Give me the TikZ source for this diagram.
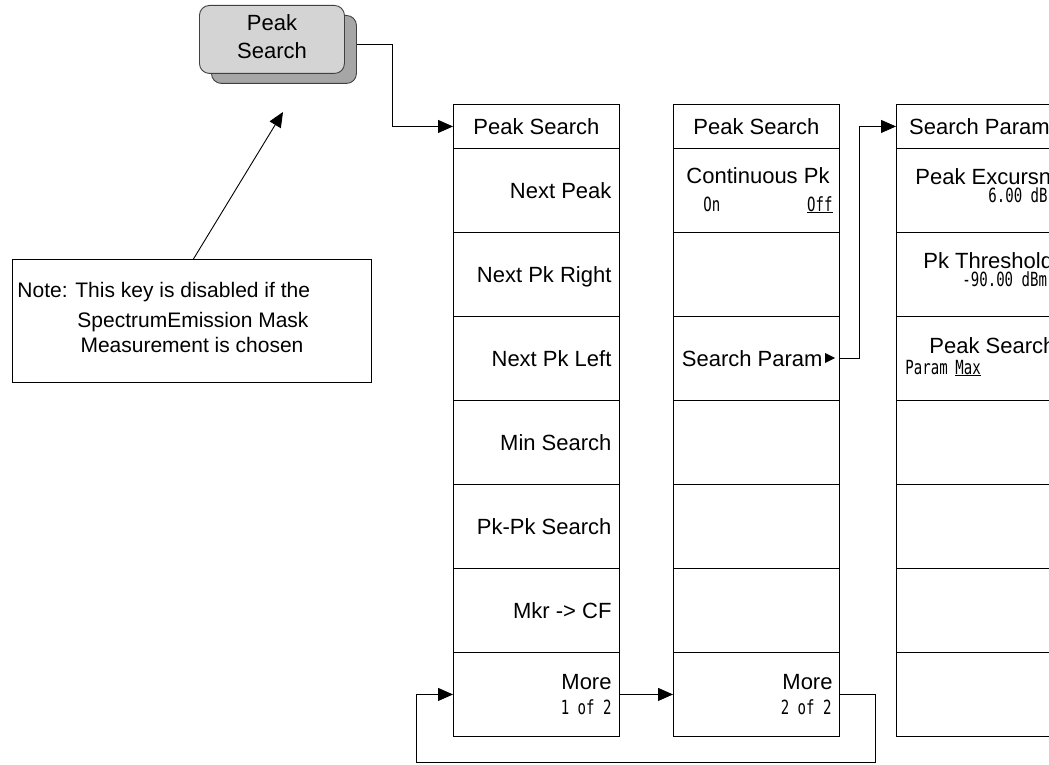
\documentclass[tikz,border=0pt]{standalone}
\usepackage{fontspec}
\setmainfont{Liberation Sans}
\newfontfamily\subfont[FakeStretch=0.72]{DejaVu Sans Mono}
\usetikzlibrary{arrows.meta,calc}
\begin{document}
\begin{tikzpicture}[x=1pt,y=-1pt,
  line width=0.9pt,
  cell/.style={draw, rectangle, minimum width=166pt, minimum height=84pt, inner sep=0pt, anchor=north west},
  hdr/.style={cell, minimum height=44pt},
  keylbl/.style={font=\fontsize{22}{24}\selectfont, inner sep=0pt, text height=16pt, text depth=0pt},
  sublbl/.style={font=\subfont\fontsize{19.5}{21}\selectfont, inner sep=0pt, text height=14pt, text depth=0pt},
  arr/.style={-{Triangle[length=15pt,width=13pt]}},
  notetxt/.style={font=\fontsize{21}{24}\selectfont, inner sep=0pt},
  hardkey/.style={draw=black!75, rounded corners=10pt, minimum width=145pt, minimum height=68pt, inner sep=0pt, anchor=north west}
]
\path[use as bounding box] (0,0) rectangle (1049,765);
\clip (0,0) rectangle (1049,765);

% hard key
\node[hardkey, fill=black!35] (keysh) at (211,15) {};
\node[hardkey, fill=black!17] (key) at (199,5) {};
\node[keylbl] (keyt1) at (272,23) {Peak};
\node[keylbl] (keyt2) at (272,51) {Search};

% column 1
\node[hdr] (c1h) at (453,104) {};
\node[keylbl] (c1ht) at (c1h.center) {Peak Search};
\foreach \i/\t in {1/Next Peak,2/Next Pk Right,3/Next Pk Left,4/Min Search,5/Pk-Pk Search,6/Mkr -> CF}{
  \node[cell] (c1r\i) at (453,{148+84*(\i-1)}) {};
  \node[keylbl, anchor=east] (c1t\i) at ([xshift=-8pt]c1r\i.east) {\t};
}
\node[cell] (c1m) at (453,652) {};
\node[keylbl, anchor=east] (c1mt) at (612,681) {More};
\node[sublbl, anchor=east] (c1ms) at (612,707) {1 of 2};

% column 2
\node[hdr] (c2h) at (673,104) {};
\node[keylbl] (c2ht) at (c2h.center) {Peak Search};
\foreach \i in {1,...,6}{
  \node[cell] (c2r\i) at (673,{148+84*(\i-1)}) {};
}
\node[keylbl, anchor=east] (c2t1) at (830,175) {Continuous Pk};
\node[sublbl, anchor=west] (c2on) at (703,204) {On};
\node[sublbl, anchor=east] (c2off) at (833,204) {\underline{Off}};
\node[keylbl, anchor=east] (c2t3) at (823,358) {Search Param};
\fill (825,353) -- (835,358) -- (825,363) -- cycle;
\node[cell] (c2m) at (673,652) {};
\node[keylbl, anchor=east] (c2mt) at (833,681) {More};
\node[sublbl, anchor=east] (c2ms) at (832,707) {2 of 2};

% column 3
\node[hdr] (c3h) at (896,104) {};
\node[keylbl] (c3ht) at (c3h.center) {Search Param};
\foreach \i in {1,...,7}{
  \node[cell] (c3r\i) at (896,{148+84*(\i-1)}) {};
}
\node[keylbl, anchor=west] (c3t1) at (915,176) {Peak Excursn};
\node[sublbl, anchor=west] (c3s1) at (988,195) {6.00 dB};
\node[keylbl, anchor=west] (c3t2) at (923,260) {Pk Threshold};
\node[sublbl, anchor=west] (c3s2) at (962,279) {-90.00 dBm};
\node[keylbl, anchor=west] (c3t3) at (929,345) {Peak Search};
\node[sublbl, anchor=west] (c3s3a) at (905,367) {Param};
\node[sublbl, anchor=west] (c3s3b) at (955,367) {\underline{Max}};

% note
\node[draw, minimum width=359pt, minimum height=123pt, inner sep=0pt, anchor=north west] (note) at (12,259) {};
\node[notetxt, anchor=base west] (n1) at (17,297) {Note: This key is disabled if the};
\node[notetxt, anchor=base] (n2) at (193,327) {SpectrumEmission Mask};
\node[notetxt, anchor=base] (n3) at (192,352) {Measurement is chosen};
\coordinate (keytip) at (283,112);
\draw[arr] ([xshift=1.5pt]note.north) -- (keytip);

% connectors
\draw[arr] ([yshift=5pt]keysh.east) -- ++(36,0) |- (c1h.west);
\draw[arr] (c2r3.east) -- ++(20,0) |- (c3h.west);
\draw[arr] (c1m.east) -- (c2m.west);
\coordinate (lp) at (416,762);
\draw[arr] (c2m.east) -- ++(36,0) |- (lp) |- (c1m.west);
\end{tikzpicture}
\end{document}
